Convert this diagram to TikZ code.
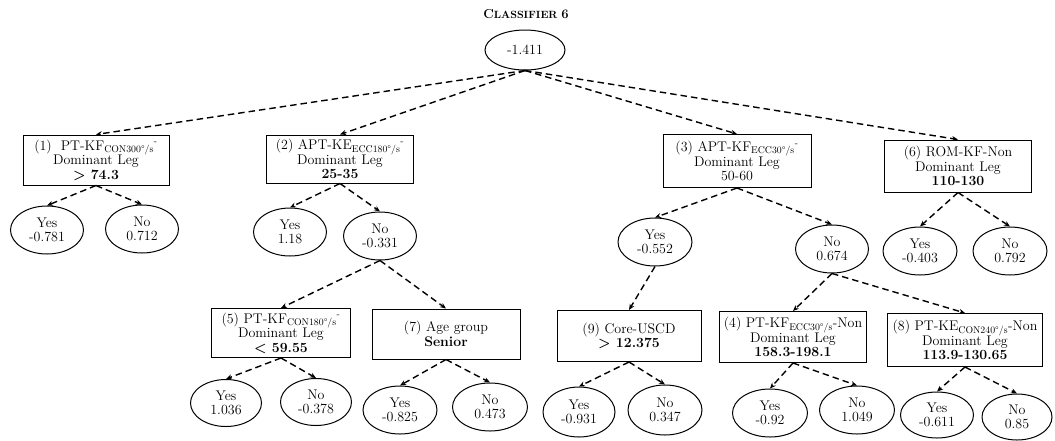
\documentclass[tikz,border=0pt]{standalone}
\usetikzlibrary{shapes.geometric,arrows.meta}

\tikzset{
  base/.style={draw, line width=1pt, align=center, inner sep=0pt,
    font=\fontsize{14}{14.5}\selectfont},
  rule/.style={base, rectangle, minimum width=147pt, minimum height=50pt},
  leaf/.style={base, ellipse, minimum width=73pt, minimum height=48pt},
  link/.style={line width=1.4pt, dash pattern=on 6.5pt off 4pt,
    -{Stealth[length=6pt,width=5pt]}}
}
\newcommand{\subs}[1]{\textsubscript{#1}}
\newcommand{\hsup}{\textsuperscript{-}}

\begin{document}
\begin{tikzpicture}[x=1pt,y=-1pt]
\useasboundingbox (0,0) rectangle (1055,440);

% title
\node (title) at (526,14) {\bfseries{\fontsize{13}{14}\selectfont C}{\fontsize{10.5}{12}\selectfont LASSIFIER} {\fontsize{13}{14}\selectfont 6}};

% root
\node[leaf, minimum width=80pt, minimum height=40pt] (root) at (525,50) {-1.411};

% first level rules
\node[rule, minimum width=146pt] (r1) at (96,160) {(1)~ PT-KF\subs{CON300\textdegree/s}\hsup\\Dominant Leg\\\textbf{> 74.3}};
\node[rule, minimum height=48pt] (r2) at (340,159) {(2) APT-KE\subs{ECC180\textdegree/s}\hsup\\Dominant Leg\\\textbf{25-35}};
\node[rule, minimum width=148pt, minimum height=53pt] (r3) at (737,161) {(3) APT-KF\subs{ECC30\textdegree/s}\hsup\\Dominant Leg\\50-60};
\node[rule, minimum height=52pt] (r6) at (958,166) {(6) ROM-KF-Non\\Dominant Leg\\\textbf{110-130}};

% outcomes of rule 1
\node[leaf] (y1) at (47,230) {Yes\\-0.781};
\node[leaf] (n1) at (142,229) {No\\0.712};

% outcomes of rule 2
\node[leaf] (y2) at (290,232) {Yes\\1.18};
\node[leaf] (n2) at (380,236) {No\\-0.331};

% outcomes of rule 3
\node[leaf, minimum width=74pt] (y3) at (655,242) {Yes\\-0.552};
\node[leaf] (n3) at (832,249) {No\\0.674};

% outcomes of rule 6
\node[leaf, minimum width=74pt] (y6) at (920,251) {Yes\\-0.403};
\node[leaf, minimum width=74pt] (n6) at (1010,251) {No\\0.792};

% second level rules
\node[rule, minimum width=139pt, minimum height=49pt] (r5) at (281,333) {(5) PT-KF\subs{CON180\textdegree/s}\hsup\\Dominant Leg\\\textbf{< 59.55}};
\node[rule, minimum width=148pt] (r7) at (446,334) {(7) Age group\\\textbf{Senior}};
\node[rule, minimum width=144pt, minimum height=51pt] (r9) at (629,336) {(9) Core-USCD\\\textbf{> 12.375}};
\node[rule, minimum height=51pt] (r4) at (793,337) {(4) PT-KF\subs{ECC30\textdegree/s}-Non\\Dominant Leg\\\textbf{158.3-198.1}};
\node[rule, minimum width=155pt, minimum height=53pt] (r8) at (965,340) {(8) PT-KE\subs{CON240\textdegree/s}-Non\\Dominant Leg\\\textbf{113.9-130.65}};

% outcomes of second level rules
\node[leaf, minimum width=71pt, minimum height=47pt] (y5) at (226,403) {Yes\\1.036};
\node[leaf, minimum width=71pt, minimum height=47pt] (n5) at (316,402) {No\\-0.378};
\node[leaf, minimum width=74pt] (y7) at (400,410) {Yes\\-0.825};
\node[leaf, minimum width=75pt] (n7) at (490,407) {No\\0.473};
\node[leaf, minimum width=72pt, minimum height=50pt] (y9) at (579,412) {Yes\\-0.931};
\node[leaf, minimum width=74pt, minimum height=50pt] (n9) at (665,410) {No\\0.347};
\node[leaf, minimum width=75pt] (y4) at (770,413) {Yes\\-0.92};
\node[leaf, minimum width=75pt] (n4) at (857,410) {No\\1.049};
\node[leaf, minimum height=46pt] (y8) at (937,415) {Yes\\-0.611};
\node[leaf, minimum width=70pt, minimum height=46pt] (n8) at (1017,417) {No\\0.85};

% connectors
\foreach \t in {r1,r2,r3,r6}
  \draw[link] (root.south) -- (\t.north);
\foreach \s/\t in {r1/y1, r1/n1, r2/y2, r2/n2, r3/y3, r3/n3, r6/y6, r6/n6,
                   r5/y5, r5/n5, r7/y7, r7/n7, r9/y9, r9/n9, r4/y4, r4/n4,
                   r8/y8, r8/n8}
  \draw[link] (\s.south) -- (\t.north);
\draw[link] (n2.south) -- (r5.north);
\draw[link] (n2.south) -- (r7.north);
\draw[link] (y3.south) -- (r9.north);
\draw[link] (n3.south) -- (r4.north);
\draw[link] (n3.south) -- (r8.north);
\end{tikzpicture}
\end{document}
